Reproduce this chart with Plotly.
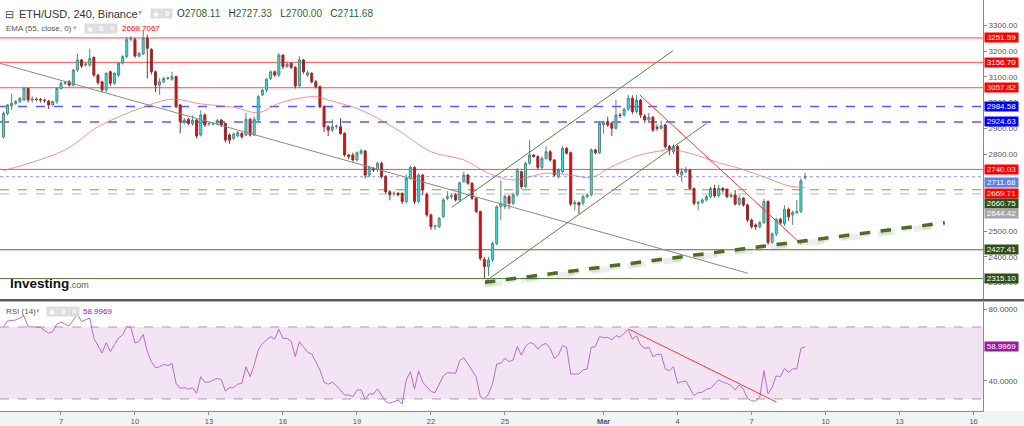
import pandas as pd
import plotly.graph_objects as go

# ---------------- data (ETH/USD 4h, Binance) ----------------
start_time = "2022-02-04 16:00"
opens = [2867,2958,2987,2997,3004,3010,3055,3010,3014,3012,3010,3006,2991,3004,3055,3075,3081,3068,3127,3166,
         3146,3146,3176,3107,3081,3049,3120,3075,3107,3153,3179,3246,3246,3181,3189,3250,3207,3120,3068,3081,
         3094,3091,3101,2991,2926,2935,2919,2932,2874,2952,2917,2917,2919,2932,2919,2874,2861,2870,2880,2874,
         2935,2874,2932,3030,3049,3094,3120,3107,3185,3140,3153,3137,3065,3166,3107,3114,3081,3062,2984,2906,
         2893,2906,2906,2880,2796,2796,2777,2803,2812,2718,2744,2738,2764,2712,2653,2645,2647,2647,2615,2705,
         2748,2615,2718,2644,2563,2517,2517,2556,2628,2634,2641,2621,2692,2718,2686,2628,2576,2390,2362,2388,
         2452,2595,2595,2634,2608,2641,2731,2673,2764,2796,2790,2748,2783,2809,2777,2712,2731,2822,2805,2605,
         2611,2608,2634,2641,2816,2805,2913,2926,2919,2900,2952,2952,2974,3017,2965,3010,2948,2932,2943,2904,
         2900,2913,2829,2809,2829,2718,2731,2738,2666,2608,2612,2621,2634,2666,2638,2666,2662,2634,2641,2605,
         2628,2602,2543,2524,2517,2533,2615,2456,2489,2546,2530,2585,2563,2572,2576,2708.11]
highs = [2965,2995,3035,3010,3020,3062,3058,3025,3020,3018,3015,3010,3008,3060,3082,3085,3088,3130,3190,3170,
         3158,3210,3180,3112,3085,3118,3125,3118,3158,3185,3255,3258,3252,3196,3282,3265,3212,3125,3095,3100,
         3100,3120,3105,2995,2940,2940,2950,2938,2970,2958,2925,2925,2936,2936,2922,2880,2883,2890,2885,2960,
         2940,2945,3030,3055,3095,3125,3125,3192,3188,3160,3158,3142,3180,3170,3125,3118,3088,3066,2990,2912,
         2935,2915,2939,2885,2800,2805,2810,2820,2815,2755,2750,2770,2770,2718,2660,2655,2652,2650,2720,2755,
         2752,2725,2722,2650,2568,2525,2555,2630,2655,2645,2648,2692,2730,2722,2690,2632,2580,2400,2400,2460,
         2600,2697,2640,2640,2650,2745,2735,2770,2855,2800,2795,2790,2830,2815,2780,2745,2830,2828,2810,2620,
         2615,2640,2648,2822,2820,2925,2930,2945,2925,3010,2960,2980,3030,3028,3030,3015,2955,2960,2948,2915,
         2930,2918,2835,2838,2835,2745,2750,2742,2670,2618,2628,2640,2672,2680,2680,2672,2668,2650,2660,2640,
         2632,2606,2548,2530,2540,2625,2620,2495,2552,2552,2600,2592,2580,2621,2705,2727.33]
lows = [2860,2950,2971,2990,2998,3005,3000,3000,3005,3000,3000,2975,2985,2995,3050,3068,3062,3062,3120,3135,
        3140,3140,3100,3070,3040,3040,3065,3070,3100,3148,3172,3238,3175,3176,3185,3094,3110,3040,3030,3075,
        3088,3085,2978,2880,2915,2912,2910,2860,2868,2905,2908,2910,2912,2905,2845,2840,2855,2865,2860,2870,
        2868,2870,2925,3025,3040,3088,3100,3100,3130,3135,3130,3055,3060,3112,3100,3075,3055,2978,2885,2870,
        2885,2898,2875,2790,2780,2770,2770,2798,2705,2710,2730,2730,2705,2645,2620,2635,2635,2605,2608,2700,
        2605,2608,2640,2555,2505,2505,2512,2550,2620,2625,2615,2615,2688,2680,2620,2570,2385,2315,2325,2380,
        2445,2543,2585,2585,2600,2635,2665,2668,2758,2785,2740,2740,2778,2770,2712,2705,2725,2798,2598,2580,
        2565,2600,2628,2635,2798,2800,2880,2905,2870,2895,2940,2945,2968,2955,2958,2940,2920,2925,2885,2890,
        2895,2820,2795,2800,2715,2690,2725,2660,2600,2580,2605,2615,2628,2630,2630,2650,2628,2630,2600,2598,
        2595,2535,2510,2505,2510,2528,2445,2450,2480,2525,2520,2540,2524,2565,2570,2700.00]
closes = [2958,2991,2997,3004,3017,3055,3010,3014,3012,3010,3009,2991,3004,3055,3075,3078,3068,3127,3166,3142,
          3150,3172,3107,3078,3049,3114,3075,3114,3153,3179,3246,3250,3181,3192,3250,3211,3120,3068,3081,3094,
          3096,3101,2984,2926,2932,2919,2932,2870,2952,2913,2919,2919,2930,2913,2854,2854,2878,2883,2867,2935,
          2874,2935,3023,3049,3091,3120,3107,3185,3140,3150,3137,3065,3166,3120,3116,3081,3062,2984,2906,2893,
          2906,2908,2880,2796,2790,2777,2805,2812,2718,2747,2738,2764,2712,2653,2641,2647,2641,2615,2705,2748,
          2615,2718,2660,2563,2517,2520,2550,2621,2634,2637,2621,2688,2718,2686,2628,2576,2394,2362,2388,2452,
          2595,2608,2634,2608,2641,2735,2673,2764,2796,2790,2748,2783,2809,2777,2718,2738,2822,2803,2605,2611,
          2602,2634,2641,2816,2805,2919,2922,2913,2900,2952,2950,2974,3017,2965,3010,2952,2932,2943,2893,2900,
          2909,2829,2816,2829,2725,2731,2740,2666,2608,2612,2621,2634,2666,2637,2666,2660,2634,2641,2605,2628,
          2602,2543,2517,2517,2533,2615,2456,2489,2546,2533,2585,2556,2572,2576,2696,2711.68]

# EMA(55): candle index -> value
ema_idx = [0, 15, 23, 34, 41, 48, 56, 62, 67, 72, 76, 79, 87, 96, 104, 112, 118, 124, 132, 138,
           143, 148, 154, 160, 162, 167, 174, 179, 186, 191, 195]
ema_val = [2735, 2816, 2906, 2982, 3013, 2995, 2982, 2961, 2997, 3017, 3023, 3010, 2971, 2893, 2809, 2777,
           2725, 2699, 2725, 2718, 2709, 2751, 2792, 2813, 2818, 2803, 2766, 2744, 2705, 2676, 2669.71]

# RSI(14): candle index -> value
rsi_idx = [0,1,3,5,6,9,11,12,13,14,16,18,19,21,22,24,25,26,28,29,30,31,32,33,34,35,36,37,38,39,40,41,42,43,44,45,
           46,47,48,49,50,52,53,54,55,56,57,58,59,60,61,62,63,65,66,67,68,69,70,71,72,74,75,77,78,79,80,81,83,84,85,
           86,87,88,89,90,91,93,94,96,97,98,99,100,101,102,104,105,107,108,110,111,112,113,115,116,117,118,119,120,
           121,122,123,124,125,126,127,128,129,130,131,132,133,134,135,136,137,138,140,141,142,143,144,145,146,147,
           148,149,150,151,152,153,154,155,156,157,158,159,160,161,162,163,164,165,166,168,169,170,171,172,174,175,
           176,177,178,179,180,181,182,183,184,185,186,187,188,189,190,191,192,193,194,195]
rsi_val = [70.2,73.3,73.9,76.1,70.2,69.8,66.6,67.4,71.7,72.7,70.5,77.2,73.0,75.0,63.9,55.5,61.3,56.3,63.9,65.6,
           70.2,69.8,61.1,61.9,65.9,56.3,50.7,47.4,47.9,49.3,48.5,49.8,38.7,35.9,36.3,35.4,36.3,33.2,42.4,39.3,
           39.3,41.5,40.6,34.4,36.3,36.3,38.2,38.7,47.9,42.4,48.9,57.2,60.9,64.6,63.3,68.7,63.7,63.7,61.9,53.5,
           61.9,55.9,55.0,46.1,39.3,38.2,39.3,37.4,32.2,32.2,31.3,35.0,35.0,29.8,32.8,32.8,35.6,28.5,27.6,29.4,
           27.2,40.6,45.2,35.4,45.6,39.3,34.1,33.5,42.8,44.6,44.3,51.3,52.9,49.3,42.4,31.3,29.8,32.8,38.7,49.4,
           49.8,52.6,50.7,51.7,59.1,54.4,59.1,61.3,60.6,57.8,60.0,60.9,58.1,52.6,54.4,59.6,58.7,43.9,43.9,46.1,
           46.7,58.7,59.1,64.6,64.1,64.3,62.8,65.2,64.3,66.5,68.7,63.2,65.2,60.0,58.1,58.7,53.5,54.8,54.8,46.7,
           45.7,47.9,38.7,39.6,40.0,31.8,33.5,33.7,35.4,35.9,40.6,39.3,38.7,37.4,35.0,37.8,35.4,30.4,28.9,28.9,
           31.3,45.7,32.8,36.5,42.8,42.4,47.0,44.8,46.7,46.7,58.1,58.9969]

# horizontal levels drawn on the chart
red_levels = [3251.59, 3156.70, 3057.82, 2740.03]
blue_levels = [2984.58, 2924.63]
green_levels = [2427.41, 2315.10]
last_price = 2711.68
ema_last = 2669.71
dash_green_level = 2660.75
dash_gray_level = 2644.42
rsi_last = 58.9969

# trend lines: (start time, start price, end time, end price)
gray_trend = ("2022-02-04 12:40", 3153, "2022-03-06 20:25", 2336)
channel_upper = ("2022-02-22 20:10", 2592.6, "2022-03-03 19:25", 3201.6)
channel_lower = ("2022-02-24 04:30", 2303.1, "2022-03-05 04:10", 2919.5)
red_trend = ("2022-03-02 11:20", 3029.6, "2022-03-09 00:30", 2448.6)
support_trend = ("2022-02-24 04:30", 2300.8, "2022-03-14 20:00", 2532.7)
rsi_trend = ("2022-03-02 00:55", 68.7, "2022-03-08 00:24", 28.2)

x_range = ["2022-02-04 12:40", "2022-03-16 09:10"]
xtick_vals = ["2022-02-07", "2022-02-10", "2022-02-13", "2022-02-16", "2022-02-19", "2022-02-22",
              "2022-02-25", "2022-03-01", "2022-03-04", "2022-03-07", "2022-03-10", "2022-03-13", "2022-03-16"]
xtick_text = ["7", "10", "13", "16", "19", "22", "25", "<b>Mar</b>", "4", "7", "10", "13", "16"]
# 2600 / 2700 are fully hidden behind the price labels in the reference
price_ticks = [2300, 2400, 2500, 2800, 2900, 3000, 3100, 3200, 3300]
rsi_ticks = [40, 80]

# ---------------- figure ----------------
FONT = "Liberation Sans, Arial, sans-serif"
times = pd.date_range(start_time, periods=len(opens), freq="4h")

fig = go.Figure()

fig.add_trace(go.Candlestick(
    x=times, open=opens, high=highs, low=lows, close=closes,
    increasing=dict(fillcolor="#2ee6e6", line=dict(color="#4f8a80", width=1)),
    decreasing=dict(fillcolor="#f00000", line=dict(color="#8c3030", width=1)),
    whiskerwidth=0, xaxis="x", yaxis="y", showlegend=False, hoverinfo="skip"))

fig.add_trace(go.Scatter(x=times[ema_idx], y=ema_val, mode="lines", line_shape="spline",
                         line=dict(color="rgba(240,110,110,0.75)", width=1), xaxis="x", yaxis="y",
                         showlegend=False, hoverinfo="skip"))


def seg(t, color, width, dash="solid", yaxis="y", dy=0.0):
    fig.add_trace(go.Scatter(x=[t[0], t[2]], y=[t[1] + dy, t[3] + dy], mode="lines",
                             line=dict(color=color, width=width, dash=dash), xaxis="x", yaxis=yaxis,
                             showlegend=False, hoverinfo="skip"))


seg(gray_trend, "#8a8a8a", 1)
seg(channel_upper, "#5d7d4d", 1)
seg(channel_lower, "#5d7d4d", 1)
seg(red_trend, "#ff3838", 1)
seg(support_trend, "rgba(0,0,0,0.07)", 6, "dash", dy=-10)
seg(support_trend, "rgba(0,0,0,0.08)", 3.5, "dash", dy=-9)
seg(support_trend, "#4c6e22", 3.5, "dash")

fig.add_trace(go.Scatter(x=times[rsi_idx], y=rsi_val, mode="lines",
                         line=dict(color="#bb6bcb", width=1), xaxis="x", yaxis="y2",
                         showlegend=False, hoverinfo="skip"))
seg(rsi_trend, "#ff3838", 1, yaxis="y2")

shapes = []


def hline(v, color, width=1, dash="solid", yref="y"):
    shapes.append(dict(type="line", xref="paper", x0=0, x1=1, yref=yref, y0=v, y1=v,
                       line=dict(color=color, width=width, dash=dash), layer="below"))


for v in red_levels:
    hline(v, "#ff4a4a", 1)
for v in blue_levels:
    hline(v, "#5a5aff", 1.5, "dash")
for v in green_levels:
    hline(v, "#4f6e3f", 1)
hline(last_price, "#8f9cf5", 1, "dot")
hline(dash_green_level, "#7f9470", 1, "dash")
hline(dash_gray_level, "#b4b4b4", 1, "dash")

# RSI band
shapes.append(dict(type="rect", xref="paper", x0=0, x1=1, yref="y2", y0=30, y1=70,
                   fillcolor="#f2e4f3", line=dict(width=0), layer="below"))
hline(70, "#a89aa8", 1, "dash", "y2")
hline(30, "#a89aa8", 1, "dash", "y2")

# bottom strip and panel separator
shapes.append(dict(type="rect", xref="paper", x0=-0.01, x1=1.05, yref="paper", y0=-0.04, y1=0,
                   fillcolor="#f3f3f3", line=dict(width=0), layer="below"))
shapes.append(dict(type="line", xref="paper", x0=0, x1=1.05, yref="paper", y0=0.2697, y1=0.2697,
                   line=dict(color="#5a5a5a", width=2.5)))

annotations = []


def axis_label(v, color, yref="y", yshift=0, fmt="{:.2f}"):
    annotations.append(dict(xref="paper", x=1, xanchor="left", xshift=1, yref=yref, y=v,
                            yshift=yshift, text=fmt.format(v), showarrow=False,
                            font=dict(family=FONT, size=8, color="white"), bgcolor=color,
                            borderpad=0, width=33, height=9, align="center", valign="middle"))


axis_label(3251.59, "#ff0000")
axis_label(3156.70, "#ff0000")
axis_label(3057.82, "#ff0000")
axis_label(2984.58, "#0000ff")
axis_label(2924.63, "#0000ff")
axis_label(2740.03, "#ff0000")
axis_label(last_price, "#5e7ff0", yshift=-6)
axis_label(ema_last, "#ff0000", yshift=-6.5)
axis_label(dash_green_level, "#2f4f1c", yshift=-13.5)
axis_label(dash_gray_level, "#a6a6a6", yshift=-19.5)
axis_label(2427.41, "#2f4f1c")
axis_label(2315.10, "#2f4f1c")
axis_label(rsi_last, "#9c1a9c", yref="y2", fmt="{:.4f}")


def text(x, y, s, size, color="#333", **kw):
    annotations.append(dict(xref="paper", yref="paper", x=x / 983, y=1 - y / 411, text=s,
                            showarrow=False, xanchor="left", yanchor="middle",
                            font=dict(family=FONT, size=size, color=color), **kw))


def icons(x, y, glyphs):
    for k, g in enumerate(glyphs):
        text(x + 11 * k, y, g, 7, "white", bgcolor="#dddddd", borderpad=1, width=8, align="center")


text(3, 14, "⊟", 11, "#555")
text(17, 14, "ETH/USD, 240, Binance", 11, "#333")
text(136, 13, "▾", 8, "#aaa")
icons(150, 14, ["◉", "⚙"])
green = "#2e6b2e"
ohlc = ("O<span style='color:%s'>2708.11</span>&nbsp;&nbsp;&nbsp;H<span style='color:%s'>2727.33</span>"
        "&nbsp;&nbsp;&nbsp;L<span style='color:%s'>2700.00</span>&nbsp;&nbsp;&nbsp;C<span style='color:%s'>2711.68</span>"
        % (green, green, green, green))
text(175, 14, ohlc, 10, "#333")
text(4, 28, "EMA (55, close, 0)", 8, "#555")
text(71, 27, "▾", 7, "#aaa")
icons(84, 28, ["◉", "⚙", "✕"])
text(120, 28, "2669.7067", 8, "#ff0000")
text(4, 311, "RSI (14)", 8, "#555")
text(34, 310, "▾", 7, "#aaa")
icons(46, 311, ["◉", "⚙", "✕"])
text(81, 311, "58.9969", 8, "#9c1a9c")
text(8, 283, "<b>Investing</b><span style='font-size:9px;color:#555'>.com</span>", 13.5, "#111")

fig.update_layout(
    width=1024, height=426, margin=dict(l=0, r=41, t=0, b=15),
    paper_bgcolor="white", plot_bgcolor="white",
    font=dict(family=FONT, size=8, color="#555"),
    showlegend=False, shapes=shapes, annotations=annotations,
    xaxis=dict(domain=[0, 1], anchor="y2", range=x_range, rangeslider=dict(visible=False),
               showgrid=False, zeroline=False, showline=True, linecolor="#8a8a8a", linewidth=1,
               ticks="outside", ticklen=3, tickcolor="#8a8a8a",
               tickvals=xtick_vals, ticktext=xtick_text,
               tickfont=dict(family=FONT, size=7.5, color="#555")),
    yaxis=dict(domain=[0.2725, 1], anchor="x", side="right", range=[2235.8, 3399.2],
               showgrid=False, zeroline=False, showline=True, linecolor="#8a8a8a", linewidth=1,
               ticks="outside", ticklen=3, tickcolor="#8a8a8a", tickvals=price_ticks,
               tickformat=".2f", tickfont=dict(family=FONT, size=8, color="#555")),
    yaxis2=dict(domain=[0, 0.2652], anchor="x", side="right", range=[23.3, 83.9],
                showgrid=False, zeroline=False, showline=True, linecolor="#8a8a8a", linewidth=1,
                ticks="outside", ticklen=3, tickcolor="#8a8a8a", tickvals=rsi_ticks,
                tickformat=".4f", tickfont=dict(family=FONT, size=8, color="#555")),
)

fig.write_html("out.html")
